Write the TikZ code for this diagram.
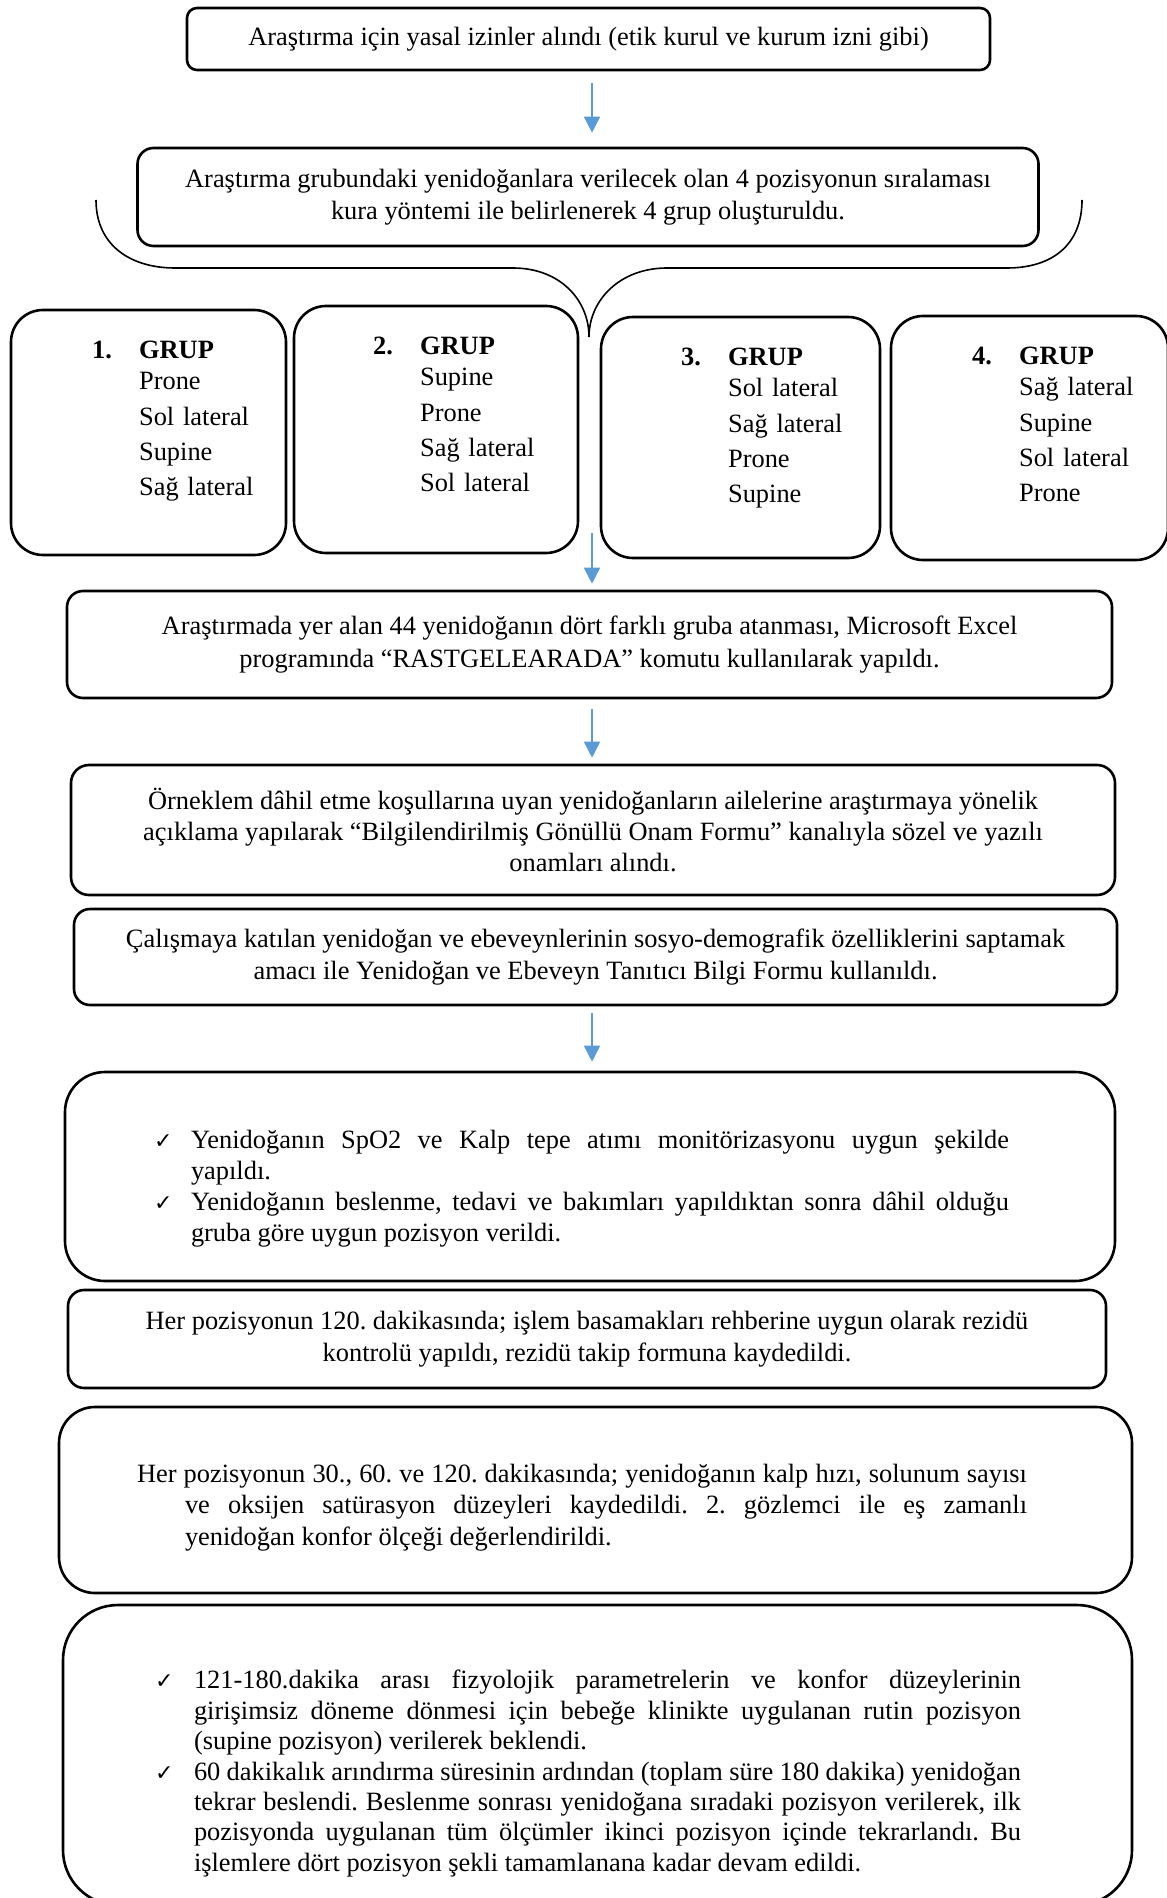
\documentclass[tikz,border=0pt]{standalone}
\usepackage{fontspec}
\setmainfont{Liberation Serif}
\newfontfamily\tickfont{DejaVu Sans}
\usetikzlibrary{arrows.meta,positioning}
\definecolor{arrowblue}{HTML}{5B9BD5}
\frenchspacing
\newcommand{\tickitem}[1]{\par\noindent\hangindent=#1\hangafter=1\relax\makebox[#1][l]{\tickfont\fontsize{11}{11}\selectfont ✓}}
\begin{document}
\begin{tikzpicture}[
                        x=0.5pt, y=-0.5pt,
                        >={Triangle[length=8pt,width=8pt]},
                        box/.style={draw, line width=1.3pt, rounded corners=#1, inner sep=0pt, align=center, font=\fontsize{13.2}{16.3}\selectfont},
                        box/.default=8pt,
                        grpbox/.style={draw, line width=1.3pt, rounded corners=16pt, inner sep=0pt},
                        grptxt/.style={anchor=base west, inner sep=0pt, text width=110pt, align=left, font=\fontsize{13.2}{17.6}\selectfont},
                        flow/.style={->, draw=arrowblue, line width=0.8pt},
                        brace/.style={line width=0.8pt}
                    ]
                    \useasboundingbox (0,0) rectangle (1166,1898);

                    % Blocks
                    \node [box=5pt, minimum width=401.5pt, minimum height=31pt] (izin) at (588.5,39) {Araştırma için yasal izinler alındı (etik kurul ve kurum izni gibi)};
                    \node [box=8pt, minimum width=450.5pt, minimum height=49pt] (kura) at (588,197) {Araştırma grubundaki yenidoğanlara verilecek olan 4 pozisyonun sıralaması\\ kura yöntemi ile belirlenerek 4 grup oluşturuldu.};

                    % Groups
                    \node [grpbox, minimum width=137.5pt, minimum height=122.5pt] (g1) at (148.5,432.5) {};
                    \node [grpbox, minimum width=142pt, minimum height=123.5pt] (g2) at (436,429.5) {};
                    \node [grpbox, minimum width=139.5pt, minimum height=120.5pt] (g3) at (740.5,437.5) {};
                    \node [grpbox, minimum width=138.5pt, minimum height=122pt] (g4) at (1029.5,438) {};
                    \node [grptxt] (g1txt) at ([shift={(82,50)}]g1.north west) {\leftskip=23.5pt\hspace*{-23.5pt}\makebox[23.5pt][l]{\textbf{1.}}\textbf{GRUP}\\[-2pt] Prone\\ Sol lateral\\ Supine\\ Sağ lateral\par};
                    \node [grptxt] (g2txt) at ([shift={(80,50)}]g2.north west) {\leftskip=23.5pt\hspace*{-23.5pt}\makebox[23.5pt][l]{\textbf{2.}}\textbf{GRUP}\\[-2pt] Supine\\ Prone\\ Sağ lateral\\ Sol lateral\par};
                    \node [grptxt] (g3txt) at ([shift={(81,50)}]g3.north west) {\leftskip=23.5pt\hspace*{-23.5pt}\makebox[23.5pt][l]{\textbf{3.}}\textbf{GRUP}\\[-2pt] Sol lateral\\ Sağ lateral\\ Prone\\ Supine\par};
                    \node [grptxt] (g4txt) at ([shift={(82,50)}]g4.north west) {\leftskip=23.5pt\hspace*{-23.5pt}\makebox[23.5pt][l]{\textbf{4.}}\textbf{GRUP}\\[-2pt] Sağ lateral\\ Supine\\ Sol lateral\\ Prone\par};

                    % Steps
                    \node [box=8pt, minimum width=522.5pt, minimum height=53.5pt] (excel) at (589.5,644.5) {Araştırmada yer alan 44 yenidoğanın dört farklı gruba atanması, Microsoft Excel\\ programında “RASTGELEARADA” komutu kullanılarak yapıldı.};
                    \node [box=9pt, minimum width=522pt, minimum height=65pt, font=\fontsize{13.2}{15.5}\selectfont] (onam) at (593,830) {Örneklem dâhil etme koşullarına uyan yenidoğanların ailelerine araştırmaya yönelik\\ açıklama yapılarak “Bilgilendirilmiş Gönüllü Onam Formu” kanalıyla sözel ve yazılı\\ onamları alındı.};
                    \node [box=8pt, minimum width=521.5pt, minimum height=48pt] (form) at (595.5,957) {Çalışmaya katılan yenidoğan ve ebeveynlerinin sosyo-demografik özelliklerini saptamak\\ amacı ile Yenidoğan ve Ebeveyn Tanıtıcı Bilgi Formu kullanıldı.};
                    \node [box=20pt, minimum width=525pt, minimum height=104.5pt, text width=436pt, align=justify, font=\fontsize{13.2}{15.5}\selectfont] (monitor) at (590,1176.5) {\rightskip=8.5pt
                        \tickitem{18.5pt}\rule{0pt}{20pt}Yenidoğanın SpO2 ve Kalp tepe atımı monitörizasyonu uygun şekilde\linebreak yapıldı.\par
                        \tickitem{18.5pt}Yenidoğanın beslenme, tedavi ve bakımları yapıldıktan sonra dâhil olduğu\linebreak gruba göre uygun pozisyon verildi.\par};
                    \node [box=8pt, minimum width=519pt, minimum height=49pt] (rezidu) at (587,1339) {Her pozisyonun 120. dakikasında; işlem basamakları rehberine uygun olarak rezidü\\ kontrolü yapıldı, rezidü takip formuna kaydedildi.};
                    \node [box=18pt, minimum width=536.5pt, minimum height=93pt, text width=458.5pt, align=justify, font=\fontsize{13.2}{15.75}\selectfont] (olcum) at (595.5,1500) {\rightskip=13.5pt
                        \noindent\hangindent=24pt\hangafter=1\relax\rule{0pt}{16.6pt}Her pozisyonun 30., 60. ve 120. dakikasında; yenidoğanın kalp hızı, solunum sayısı\linebreak ve oksijen satürasyon düzeyleri kaydedildi. 2. gözlemci ile eş zamanlı\linebreak yenidoğan konfor ölçeği değerlendirildi.\par};
                    \node [box=27.5pt, minimum width=534.5pt, minimum height=150pt, text width=442.5pt, align=justify, font=\fontsize{13.2}{15.2}\selectfont] (arinma) at (597.5,1755) {\rightskip=9.5pt
                        \tickitem{19.5pt}\rule{0pt}{27pt}121-180.dakika arası fizyolojik parametrelerin ve konfor düzeylerinin\linebreak girişimsiz döneme dönmesi için bebeğe klinikte uygulanan rutin pozisyon\linebreak (supine pozisyon) verilerek beklendi.\par
                        \tickitem{19.5pt}60 dakikalık arındırma süresinin ardından (toplam süre 180 dakika) yenidoğan\linebreak tekrar beslendi. Beslenme sonrası yenidoğana sıradaki pozisyon verilerek, ilk\linebreak pozisyonda uygulanan tüm ölçümler ikinci pozisyon içinde tekrarlandı. Bu\linebreak işlemlere dört pozisyon şekli tamamlanana kadar devam edildi.\par};

                    % Brace under the draw
                    \coordinate (tip) at (589,337);
                    \draw [brace] (96,200) .. controls (96,245) and (130,268) .. (175,268) -- (513,268)
                        .. controls (560,268) and (589,300) .. (tip)
                        .. controls (589,300) and (620,268) .. (667,268) -- (1007,268)
                        .. controls (1052,268) and (1082,245) .. (1082,200);

                    % Connections
                    \coordinate (split) at (592,533);
                    \draw [flow, shorten <=6pt, shorten >=7pt] (izin.south -| split) -- (kura.north -| split);
                    \draw [flow, shorten >=3pt] (split) -- (split |- excel.north);
                    \draw [flow, shorten <=5pt, shorten >=3pt] (excel.south -| split) -- (onam.north -| split);
                    \draw [flow, shorten <=3.5pt, shorten >=4.5pt] (form.south -| split) -- (monitor.north -| split);
                \end{tikzpicture}
\end{document}
